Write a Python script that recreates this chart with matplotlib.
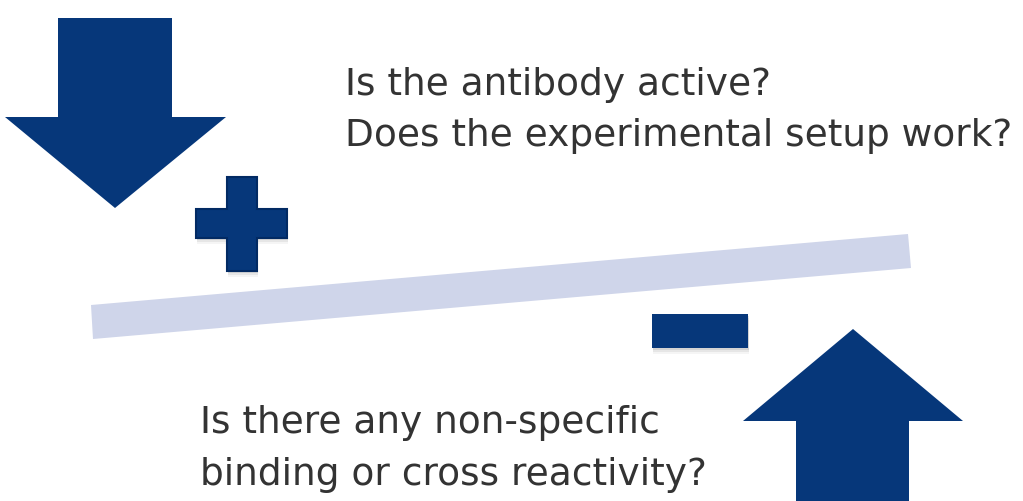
import matplotlib.pyplot as plt
from matplotlib.patches import Polygon, Rectangle

# canvas in pixel units (y down)
W, H = 1023, 502

navy = "#06377a"
navy_edge = "#022a63"
beam_color = "#cfd5ea"
text_color = "#333333"

# shapes (pixel coordinates)
down_arrow = [(58, 19), (172, 19), (172, 118), (226, 118), (115, 209),
              (5, 118), (58, 118)]
up_arrow = [(853, 330), (963, 422), (909, 422), (909, 502), (796, 502),
            (796, 422), (743, 422)]
beam = [(91, 306), (908, 235), (911, 269), (93, 340)]
plus_v = (227, 178, 30, 94)    # x, y, w, h
plus_h = (196, 210, 91, 29)
minus = (652, 315, 96, 34)

top_lines = ["Is the antibody active?", "Does the experimental setup work?"]
top_pos = [(345, 95), (345, 146)]
bottom_lines = ["Is there any non-specific", "binding or cross reactivity?"]
bottom_pos = [(200, 433), (200, 485)]

fig = plt.figure(figsize=(W / 100, H / 100), dpi=100)
ax = fig.add_axes([0, 0, 1, 1])
ax.set_xlim(0, W)
ax.set_ylim(H, 0)
ax.axis("off")

ax.add_patch(Polygon(beam, closed=True, facecolor=beam_color, edgecolor="none"))
ax.add_patch(Polygon(down_arrow, closed=True, facecolor=navy, edgecolor="none"))
ax.add_patch(Polygon(up_arrow, closed=True, facecolor=navy, edgecolor="none"))

# shadows for plus / minus
for (x, y, w, h) in [plus_v, plus_h, minus]:
    for k, a in [(6, 0.08), (4, 0.12), (2, 0.18)]:
        ax.add_patch(Rectangle((x + 1, y + k), w, h, facecolor="#808080",
                               edgecolor="none", alpha=a))

# plus sign as one cross polygon
vx, vy, vw, vh = plus_v
hx, hy, hw, hh = plus_h
plus = [(vx, vy), (vx + vw, vy), (vx + vw, hy), (hx + hw, hy), (hx + hw, hy + hh),
        (vx + vw, hy + hh), (vx + vw, vy + vh), (vx, vy + vh), (vx, hy + hh),
        (hx, hy + hh), (hx, hy), (vx, hy)]
ax.add_patch(Polygon(plus, closed=True, facecolor=navy, edgecolor=navy_edge, lw=1.5))
mx, my, mw, mh = minus
ax.add_patch(Rectangle((mx, my), mw, mh, facecolor=navy, edgecolor="none"))

for s, (x, y) in zip(top_lines + bottom_lines, top_pos + bottom_pos):
    ax.text(x, y, s, fontsize=27, color=text_color, family="DejaVu Sans",
            ha="left", va="baseline")

fig.savefig("out.png", dpi=100, facecolor="white")
